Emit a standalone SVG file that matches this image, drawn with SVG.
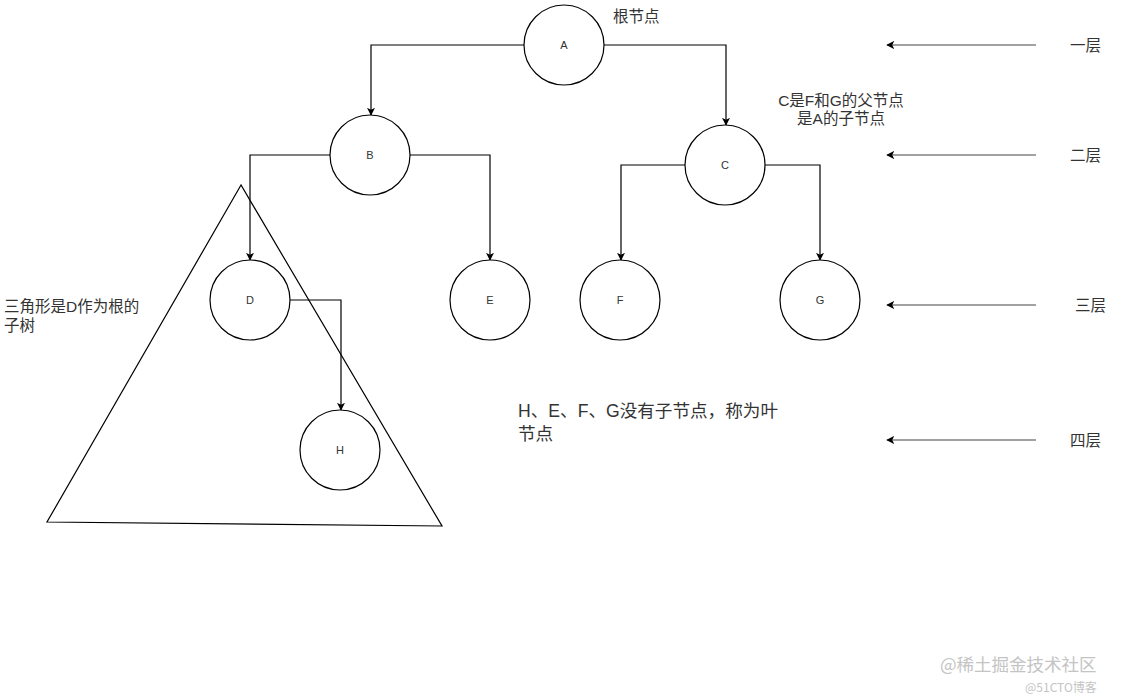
<svg xmlns="http://www.w3.org/2000/svg" width="1121" height="697" viewBox="0 0 1121 697">
<style>
.node{fill:#fff;stroke:#000;stroke-width:1.2}
.lbl{font-family:"Liberation Sans",Arial,sans-serif;font-size:11px;fill:#333;text-anchor:middle;dominant-baseline:central}
.edge{fill:none;stroke:#000;stroke-width:1.2;marker-end:url(#arr)}
.lvl{fill:none;stroke:#444;stroke-width:1.2;marker-end:url(#arr)}
.txt{font-family:"Liberation Sans","Noto Sans CJK SC",sans-serif;font-size:15.5px;fill:#333}
.big{font-family:"Liberation Sans","Noto Sans CJK SC",sans-serif;font-size:17.6px;fill:#333}
.wm{font-family:"Noto Sans CJK SC",sans-serif;fill:#c4c4c4}
</style>
<defs>
<marker id="arr" viewBox="0 0 10 10" refX="9" refY="5" markerWidth="8" markerHeight="8" markerUnits="userSpaceOnUse" orient="auto">
<path d="M0,0 L10,5 L0,10 L2.5,5 z" fill="#000"/>
</marker>
</defs>
<g id="triangle"><polygon points="241,185 47,522 442,526" fill="none" stroke="#000" stroke-width="1.2"/></g>
<g id="connectors">
<path class="edge" d="M524,45 H371 V115"/>
<path class="edge" d="M604,45 H726 V125"/>
<path class="edge" d="M330,155 H250 V260"/>
<path class="edge" d="M410,155 H490 V260"/>
<path class="edge" d="M685,165 H621 V260"/>
<path class="edge" d="M765,165 H820 V260"/>
<path class="edge" d="M290,300 H341 V410"/>
<path class="lvl" d="M1036,45 H887"/>
<path class="lvl" d="M1036,155 H887"/>
<path class="lvl" d="M1036,305 H887"/>
<path class="lvl" d="M1036,440 H887"/>
</g>
<g id="A"><circle class="node" cx="564" cy="45" r="40"/><text class="lbl" x="564" y="45">A</text></g>
<g id="B"><circle class="node" cx="370" cy="155" r="40"/><text class="lbl" x="370" y="155">B</text></g>
<g id="C"><circle class="node" cx="725" cy="165" r="40"/><text class="lbl" x="725" y="165">C</text></g>
<g id="D"><circle class="node" cx="250" cy="300" r="40"/><text class="lbl" x="250" y="300">D</text></g>
<g id="E"><circle class="node" cx="490" cy="300" r="40"/><text class="lbl" x="490" y="300">E</text></g>
<g id="F"><circle class="node" cx="620" cy="300" r="40"/><text class="lbl" x="620" y="300">F</text></g>
<g id="G"><circle class="node" cx="820" cy="300" r="40"/><text class="lbl" x="820" y="300">G</text></g>
<g id="H"><circle class="node" cx="340" cy="450" r="40"/><text class="lbl" x="340" y="450">H</text></g>
<g id="labels">
<text class="txt" x="613" y="22">根节点</text>
<text class="txt" x="841" y="106" text-anchor="middle">C是F和G的父节点</text>
<text class="txt" x="841" y="124" text-anchor="middle">是A的子节点</text>
<text class="txt" x="4" y="312">三角形是D作为根的</text>
<text class="txt" x="4" y="331">子树</text>
<text class="big" x="518" y="417">H、E、F、G没有子节点，称为叶</text>
<text class="big" x="518" y="440">节点</text>
<text class="txt" x="1070" y="51">一层</text>
<text class="txt" x="1070" y="161">二层</text>
<text class="txt" x="1075" y="311">三层</text>
<text class="txt" x="1070" y="446">四层</text>
</g>
<g id="watermark">
<text class="wm" x="940" y="671" font-size="17.5">@稀土掘金技术社区</text>
<text class="wm" x="1025" y="692" font-size="12" fill="#d0d0d0">@51CTO博客</text>
</g>
</svg>
